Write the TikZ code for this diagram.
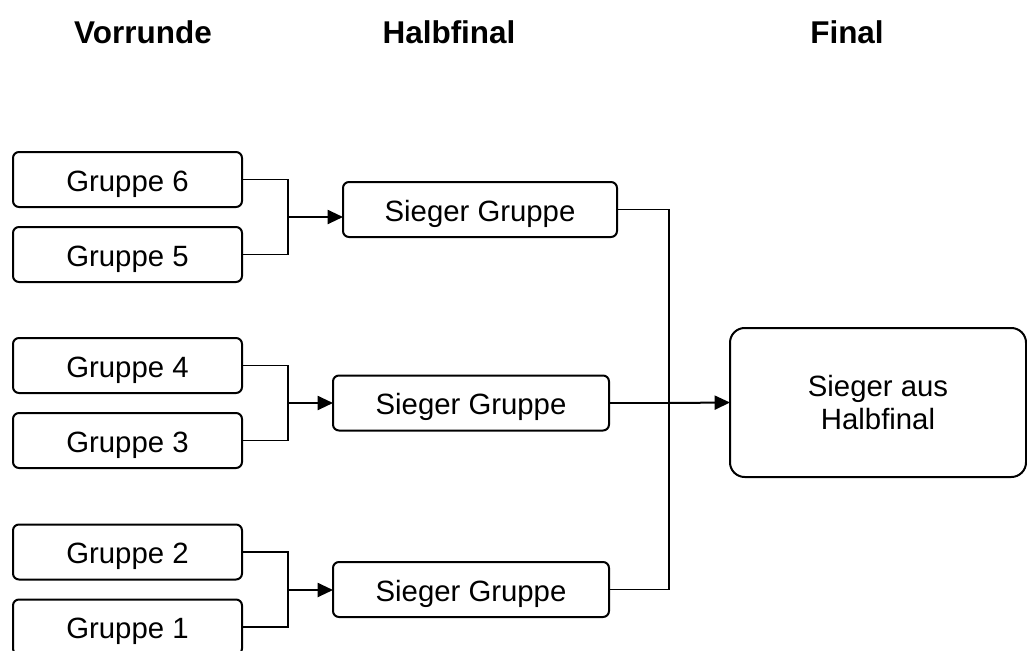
\documentclass[tikz,border=0pt]{standalone}
\usepackage{fontspec}
\setmainfont{Liberation Sans}
\usetikzlibrary{arrows.meta}
\tikzset{
  grpbox/.style={draw, line width=1.5pt, rounded corners=4.5pt, minimum width=171.75pt, minimum height=41.25pt, inner sep=0pt, outer sep=0pt, text height=17.4pt, text depth=0pt, font=\fontsize{22}{25}\selectfont},
  siegbox/.style={grpbox, minimum width=207pt},
  finbox/.style={draw, line width=1.5pt, rounded corners=11pt, minimum width=222pt, minimum height=111.75pt, inner sep=0pt, outer sep=0pt, align=center, font=\fontsize{22}{25}\selectfont},
  header/.style={anchor=base, font=\fontsize{23.6}{28}\selectfont\bfseries},
  conn/.style={line width=0.9pt},
  arr/.style={line width=1.5pt, -{Triangle[length=11.5pt, width=10.5pt]}}
}
\begin{document}
\begin{tikzpicture}[x=0.75pt, y=-0.75pt]
\useasboundingbox (0,0) rectangle (1027,650);
% headers
\node[header] (hv) at (143,43) {Vorrunde};
\node[header] (hh) at (449,43) {Halbfinal};
\node[header] (hf) at (847,43) {Final};
% group boxes
\node[grpbox] (g6) at (127.5,179.5) {Gruppe 6};
\node[grpbox] (g5) at (127.5,254.5) {Gruppe 5};
\node[grpbox] (g4) at (127.5,365.5) {Gruppe 4};
\node[grpbox] (g3) at (127.5,440.5) {Gruppe 3};
\node[grpbox] (g2) at (127.5,552) {Gruppe 2};
\node[grpbox] (g1) at (127.5,627) {Gruppe 1};
% semifinal boxes
\node[siegbox, minimum width=205.5pt] (s1) at (480,209.5) {Sieger Gruppe};
\node[siegbox] (s2) at (471,403) {Sieger Gruppe};
\node[siegbox] (s3) at (471,589.5) {Sieger Gruppe};
% final box
\node[finbox] (fin) at (878,402.5) {Sieger aus\\Halbfinal};
% junctions
\coordinate (j1) at (288,217);
\coordinate (j2) at (288,403);
\coordinate (j3) at (288,590);
\coordinate (jf) at (669,403);
% connectors round 1
\draw[conn] (g6.east) -| (j1) |- (g5.east);
\draw[arr] (j1) -- (j1 -| s1.west);
\draw[conn] (g4.east) -| (j2) |- (g3.east);
\draw[arr] (j2) -- (s2.west);
\draw[conn] (g2.east) -| (j3) |- (g1.east);
\draw[arr] (j3) -- (j3 -| s3.west);
% connectors to final
\draw[conn] (s1.east) -| (jf) |- (s3.east);
\draw[conn] (s2.east) -- (jf);
\draw[arr] (jf) -- (fin.west);
\end{tikzpicture}
\end{document}
